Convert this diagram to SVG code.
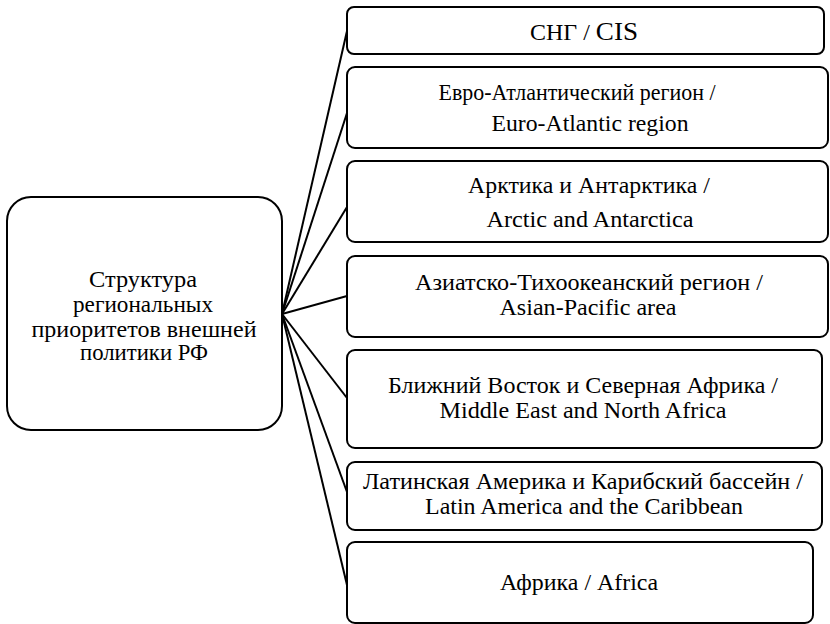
<svg xmlns="http://www.w3.org/2000/svg" width="830" height="624" viewBox="0 0 830 624">
<style>
.box{fill:#fff;stroke:#000;stroke-width:2}
.t{font-family:'Liberation Serif','Times New Roman',serif;font-size:23px;fill:#000;text-anchor:middle}
.c{stroke:#000;stroke-width:2;fill:none}
</style>
<rect width="830" height="624" fill="#fff"/>
<g id="connectors">
<line class="c" x1="282" y1="314" x2="347" y2="31"/>
<line class="c" x1="282" y1="314" x2="347" y2="113"/>
<line class="c" x1="282" y1="314" x2="347" y2="207"/>
<line class="c" x1="282" y1="314" x2="347" y2="296"/>
<line class="c" x1="282" y1="314" x2="347" y2="398"/>
<line class="c" x1="282" y1="314" x2="347" y2="492"/>
<line class="c" x1="282" y1="314" x2="347" y2="585"/>
</g>
<g id="root">
<rect class="box" x="7" y="197" width="275" height="233" rx="24"/>
<text class="t" x="143" y="287" textLength="108" lengthAdjust="spacingAndGlyphs">Структура</text>
<text class="t" x="143" y="312" textLength="140" lengthAdjust="spacingAndGlyphs">региональных</text>
<text class="t" x="144" y="337" textLength="225" lengthAdjust="spacingAndGlyphs">приоритетов внешней</text>
<text class="t" x="144" y="360" textLength="128" lengthAdjust="spacingAndGlyphs">политики РФ</text>
</g>
<g id="cis">
<rect class="box" x="347" y="7" width="477" height="47" rx="7"/>
<text class="t" x="584" y="40" textLength="108" lengthAdjust="spacingAndGlyphs">СНГ / <tspan font-size="26">CIS</tspan></text>
</g>
<g id="euro">
<rect class="box" x="347" y="67" width="481" height="81" rx="8"/>
<text class="t" x="577" y="100" textLength="277" lengthAdjust="spacingAndGlyphs">Евро-Атлантический регион /</text>
<text class="t" x="590" y="131" textLength="197" lengthAdjust="spacingAndGlyphs">Euro-Atlantic region</text>
</g>
<g id="arctic">
<rect class="box" x="347" y="161" width="481" height="81" rx="8"/>
<text class="t" x="589" y="193" textLength="242" lengthAdjust="spacingAndGlyphs">Арктика и Антарктика /</text>
<text class="t" x="590" y="227" textLength="207" lengthAdjust="spacingAndGlyphs">Arctic and Antarctica</text>
</g>
<g id="asia">
<rect class="box" x="347" y="256" width="481" height="81" rx="8"/>
<text class="t" x="589" y="290" textLength="348" lengthAdjust="spacingAndGlyphs">Азиатско-Тихоокеанский регион /</text>
<text class="t" x="588" y="315" textLength="177" lengthAdjust="spacingAndGlyphs">Asian-Pacific area</text>
</g>
<g id="mena">
<rect class="box" x="347" y="350" width="475" height="98" rx="8"/>
<text class="t" x="583" y="393" textLength="390" lengthAdjust="spacingAndGlyphs">Ближний Восток и Северная Африка /</text>
<text class="t" x="583" y="418" textLength="287" lengthAdjust="spacingAndGlyphs">Middle East and North Africa</text>
</g>
<g id="latam">
<rect class="box" x="347" y="462" width="475" height="68" rx="8"/>
<text class="t" x="583" y="489" textLength="440" lengthAdjust="spacingAndGlyphs">Латинская Америка и Карибский бассейн /</text>
<text class="t" x="584" y="514" textLength="318" lengthAdjust="spacingAndGlyphs">Latin America and the Caribbean</text>
</g>
<g id="africa">
<rect class="box" x="347" y="542" width="466" height="81" rx="8"/>
<text class="t" x="579" y="590" textLength="158" lengthAdjust="spacingAndGlyphs">Африка / Africa</text>
</g>
</svg>
